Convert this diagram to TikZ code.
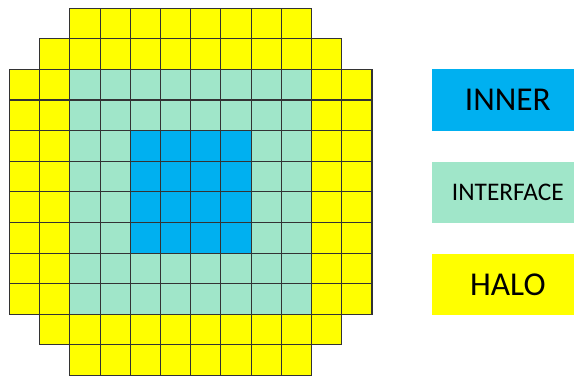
\documentclass[tikz,border=0pt]{standalone}
\usepackage{fontspec}
\setmainfont{Carlito}
\usepackage{tikz}
\usetikzlibrary{positioning}

\definecolor{innerblue}{RGB}{0,176,240}
\definecolor{faceteal}{RGB}{160,230,201}
\definecolor{haloyellow}{RGB}{255,255,0}

\begin{document}
\begin{tikzpicture}[
			x=22.65pt, y=22.95pt,
			cell/.style={draw=black!80, line width=0.85pt},
			legend/.style={
				minimum width=113.25pt,
				minimum height=45.9pt,
				inner sep=0pt,
				text=black
			}
			]
			
			\useasboundingbox (-0.315,-0.02) rectangle (18.69,12.27);
			
			\fill[haloyellow] (2,12) -- (10,12) -- (10,11) -- (11,11) -- (11,10) -- (12,10)
				-- (12,2) -- (11,2) -- (11,1) -- (10,1) -- (10,0) -- (2,0) -- (2,1) -- (1,1)
				-- (1,2) -- (0,2) -- (0,10) -- (1,10) -- (1,11) -- (2,11) -- cycle;
			\fill[faceteal] (2,2) rectangle (10,10);
			\fill[innerblue] (4,4) rectangle (8,8);
			
			\foreach \r/\a/\b in {0/2/9, 1/1/10, 2/0/11, 3/0/11, 4/0/11, 5/0/11,
				6/0/11, 7/0/11, 8/0/11, 9/0/11, 10/1/10, 11/2/9}
			\foreach \c in {\a,...,\b}
			\draw[cell] (\c,11-\r) rectangle ++(1,1);
			
			\node[legend, fill=innerblue, font=\fontsize{25}{30}\selectfont] (inner) at (16.5,9) {INNER};
			\node[legend, fill=faceteal, font=\fontsize{19}{23}\selectfont, below=1*22.95pt of inner] (interface) {INTERFACE};
			\node[legend, fill=haloyellow, font=\fontsize{25}{30}\selectfont, below=1*22.95pt of interface] (halo) {HALO};
			
		\end{tikzpicture}
\end{document}
